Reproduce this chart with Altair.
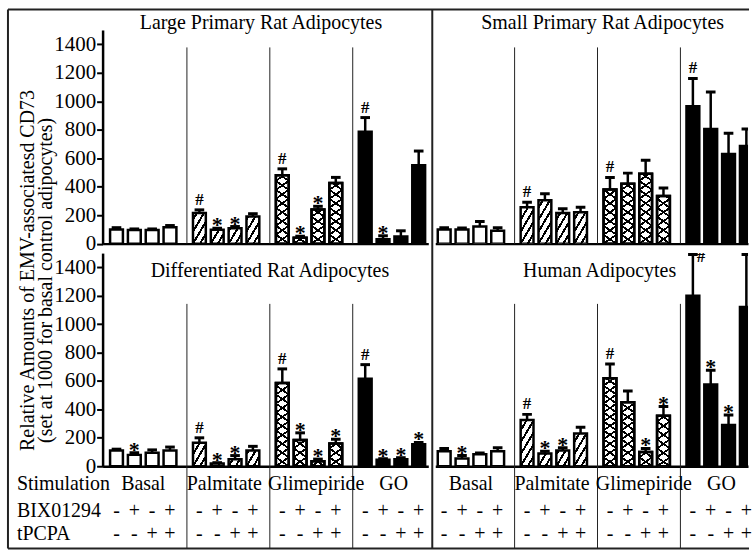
import math
import altair as alt

FONT = "Liberation Serif"

panel_titles = ["Large Primary Rat Adipocytes", "Small Primary Rat Adipocytes",
                "Differentiated Rat Adipocytes", "Human Adipocytes"]
groups = ["Basal", "Palmitate", "Glimepiride", "GO"]
bix01294 = ["-", "+", "-", "+"]
tpcpa = ["-", "-", "+", "+"]
row_labels = ["Stimulation", "BIX01294", "tPCPA"]
y_ticks = [0, 200, 400, 600, 800, 1000, 1200, 1400]
y_title = ["Relative Amounts of EMV-associatesd CD73",
           "(set at 1000 for basal control adipocytes)"]

large_mean = [100, 95, 95, 115, 215, 98, 108, 190, 480, 42, 240, 425, 785, 30, 50, 550]
large_err = [12, 8, 8, 12, 22, 10, 12, 20, 45, 10, 22, 40, 100, 25, 40, 100]
large_sig = ["", "", "", "", "#", "*", "*", "", "#", "*", "*", "", "#", "*", "", ""]

small_mean = [100, 100, 120, 90, 255, 305, 215, 220, 380, 420, 490, 335, 965, 805, 630, 685]
small_err = [12, 10, 35, 22, 35, 45, 30, 35, 85, 75, 95, 55, 195, 260, 145, 120]
small_sig = ["", "", "", "", "#", "", "", "", "#", "", "", "", "#", "", "", ""]

diff_mean = [110, 80, 95, 110, 165, 20, 50, 110, 585, 185, 35, 160, 615, 45, 50, 155]
diff_err = [10, 15, 20, 25, 35, 5, 25, 30, 100, 50, 15, 30, 100, 8, 10, 12]
diff_sig = ["", "*", "", "", "#", "*", "*", "", "#", "*", "*", "*", "#", "*", "*", "*"]

human_mean = [105, 55, 85, 105, 325, 90, 110, 230, 620, 450, 100, 355, 1200, 575, 290, 1120]
human_err = [20, 20, 8, 25, 40, 15, 20, 45, 100, 80, 25, 65, 290, 100, 70, 370]
human_sig = ["", "*", "", "", "#", "*", "*", "", "#", "", "*", "*", "#r", "*", "*", "#r"]

# ---- layout / style ----
YMAX = 1500
GP = 4.65          # group pitch in bar units
HALF = 0.36        # half bar width in bar units
PXU = 17.9         # pixels per bar unit
W_L, W_R = 327, 314
H_T, H_B = 214.5, 214
XDOM_L = [-0.78, -0.78 + W_L / PXU]
XDOM_R = [-0.5, -0.5 + W_R / PXU]
LABEL_SHIFT = [0.0, -0.1, 0.4, 0.1]


def stripe_fill(w, h, k, pv, th, fg, bg):
    corners = [(0.0, 0.0), (1.0, 0.0), (0.0, 1.0), (1.0, 1.0)]
    fv = [k * u * w + v * h for u, v in corners]
    fmin, fmax = min(fv), max(fv)
    u0, v0 = corners[fv.index(fmin)]
    al, be = k * w, h
    delta = fmax - fmin
    lam = delta / (al * al + be * be)
    tf = th * math.sqrt(k * k + 1)
    stops = [{"offset": 0, "color": bg}]
    n_lo = math.floor((fmin - tf - h) / pv) - 1
    n_hi = math.ceil((fmax + tf - h) / pv) + 1
    for n in range(n_lo, n_hi + 1):
        c = h + n * pv
        s = min(max((c - tf / 2 - fmin) / delta, 0), 1)
        e = min(max((c + tf / 2 - fmin) / delta, 0), 1)
        if e <= s:
            continue
        s, e = round(s, 5), round(e, 5)
        stops += [{"offset": s, "color": bg}, {"offset": s, "color": fg},
                  {"offset": e, "color": fg}, {"offset": e, "color": bg}]
    stops.append({"offset": 1, "color": bg})
    return {"gradient": "linear", "x1": u0, "y1": v0,
            "x2": u0 + lam * al, "y2": v0 + lam * be, "stops": stops}


def bar_records(mean, err, sig, H):
    w = 2 * HALF * PXU
    recs = []
    for i, (m, e, s) in enumerate(zip(mean, err, sig)):
        g, b = divmod(i, 4)
        x = g * GP + b
        h = max(m * H / YMAX, 0.5)
        cross = False
        f2 = "transparent"
        if g == 0:
            f1 = "white"
        elif g == 1:
            f1 = stripe_fill(w, h, 1.7, 12, 2.0, "black", "white")
        elif g == 2:
            f1 = stripe_fill(w, h, 0.7, 9, 1.8, "black", "white")
            f2 = stripe_fill(w, h, -0.7, 9, 1.8, "black", "rgba(255,255,255,0)")
            cross = True
        else:
            f1 = "black"
        recs.append({"x": x, "bx1": x - HALF, "bx2": x + HALF, "xl": x - 0.27, "xr": x + 0.27,
                     "v": m, "zero": 0, "top": m + e, "sig": s, "f1": f1, "f2": f2,
                     "cross": cross, "b": bix01294[b], "p": tpcpa[b]})
    return recs


def panel(mean, err, sig, W, H, xdom, yaxis, right, title, title_xy, bottom):
    recs = bar_records(mean, err, sig, H)
    data = alt.Data(values=recs)
    xs = alt.Scale(domain=xdom, nice=False, zero=False)
    ys = alt.Scale(domain=[0, YMAX], nice=False, zero=True)
    xax = alt.Axis(title=None, labels=False, ticks=False, grid=False,
                   domainWidth=2.5, domainColor="black")
    if yaxis:
        yax = alt.Axis(title=None, values=y_ticks, format="d", grid=False, tickSize=6,
                       tickWidth=2, domainWidth=2.5, labelPadding=1, labelFont=FONT,
                       labelFontSize=21, labelColor="black", tickColor="black",
                       domainColor="black", labelOverlap=False, labelFlush=False)
    else:
        yax = None
    clip = right

    def X(f):
        return alt.X(f, scale=xs, axis=xax)

    def Y(f):
        return alt.Y(f, scale=ys, axis=yax)

    layers = []
    layers.append(alt.Chart(data).mark_rect(stroke="black", strokeWidth=2.5, clip=clip).encode(
        x=X("bx1:Q"), x2="bx2:Q", y=Y("v:Q"), y2="zero:Q",
        fill=alt.Fill("f1:N", scale=None)))
    layers.append(alt.Chart(data).transform_filter("datum.cross").mark_rect(
        stroke="black", strokeWidth=2.5, clip=clip).encode(
        x=X("bx1:Q"), x2="bx2:Q", y=Y("v:Q"), y2="zero:Q",
        fill=alt.Fill("f2:N", scale=None)))
    layers.append(alt.Chart(data).mark_rule(color="black", strokeWidth=2.5, clip=clip).encode(
        x=X("x:Q"), y=Y("v:Q"), y2="top:Q"))
    layers.append(alt.Chart(data).mark_rule(color="black", strokeWidth=3, clip=clip).encode(
        x=X("xl:Q"), x2="xr:Q", y=Y("top:Q")))
    layers.append(alt.Chart(data).transform_filter("datum.sig == '#'").mark_text(
        font=FONT, fontSize=17, fontWeight="bold", baseline="bottom", dy=-1, color="black",
        clip=clip).encode(x=X("x:Q"), y=Y("top:Q"), text="sig:N"))
    layers.append(alt.Chart(data).transform_filter("datum.sig == '#r'").mark_text(
        text="#", font=FONT, fontSize=17, fontWeight="bold", align="left", baseline="middle",
        dx=4, dy=3, color="black", clip=clip).encode(x=X("x:Q"), y=Y("top:Q")))
    layers.append(alt.Chart(data).transform_filter("datum.sig == '*'").mark_text(
        font=FONT, fontSize=22, fontWeight="bold", baseline="middle", dy=-3, color="black",
        clip=clip).encode(x=X("x:Q"), y=Y("top:Q"), text="sig:N"))

    # group dividers
    div = alt.Data(values=[{"d": g * GP - 0.7} for g in (1, 2, 3)])
    if bottom:
        layers.append(alt.Chart(div).mark_rule(color="#222", strokeWidth=1).encode(
            x=X("d:Q"), y=alt.value(51), y2=alt.value(H + 83)))
    else:
        layers.append(alt.Chart(div).mark_rule(color="#222", strokeWidth=1).encode(
            x=X("d:Q"), y=alt.value(17.5), y2=alt.value(H)))

    one = alt.Data(values=[{"u": 0}])
    layers.append(alt.Chart(one).mark_text(text=title, font=FONT, fontSize=20,
                                           baseline="middle", color="black").encode(
        x=alt.value(title_xy[0]), y=alt.value(title_xy[1])))

    if bottom:
        glab = alt.Data(values=[{"x": g * GP + 1.5 + LABEL_SHIFT[g], "t": t}
                                for g, t in enumerate(groups)])
        layers.append(alt.Chart(glab).mark_text(font=FONT, fontSize=20, baseline="middle",
                                                color="black").encode(
            x=X("x:Q"), y=alt.value(232), text="t:N"))
        layers.append(alt.Chart(data).mark_text(font=FONT, fontSize=20, baseline="middle",
                                                color="black").encode(
            x=X("x:Q"), y=alt.value(259), text="b:N"))
        layers.append(alt.Chart(data).mark_text(font=FONT, fontSize=20, baseline="middle",
                                                color="black").encode(
            x=X("x:Q"), y=alt.value(282), text="p:N"))
        if not right:
            for lab, yy in zip(row_labels, [232, 259, 282]):
                layers.append(alt.Chart(one).mark_text(
                    text=lab, font=FONT, fontSize=20, align="left", baseline="middle",
                    color="black").encode(x=alt.value(-86), y=alt.value(yy)))
    if yaxis and not bottom:
        # frame lines and central divider
        frame = [(-95, -20.5, 649, -20.5), (-95, -20.5, -95, 520.5),
                 (-95, 520.5, 649, 520.5), (331, -20.5, 331, 520.5)]
        for (a, b, c, d) in frame:
            layers.append(alt.Chart(one).mark_rule(color="#222", strokeWidth=2).encode(
                x=alt.value(a), y=alt.value(b), x2=alt.value(c), y2=alt.value(d)))
        for txt, xx, yy in zip(y_title, [-75, -57], [241.5, 251.5]):
            layers.append(alt.Chart(one).mark_text(
                text=txt, font=FONT, fontSize=20, angle=270, align="center",
                baseline="middle", color="black").encode(x=alt.value(xx), y=alt.value(yy)))

    return alt.layer(*layers).properties(width=W, height=H)


tl = panel(large_mean, large_err, large_sig, W_L, H_T, XDOM_L, True, False,
           panel_titles[0], (159, -6.5), False)
tr = panel(small_mean, small_err, small_sig, W_R, H_T, XDOM_R, False, True,
           panel_titles[1], (168, -6.5), False)
bl = panel(diff_mean, diff_err, diff_sig, W_L, H_B, XDOM_L, True, False,
           panel_titles[2], (168, 18), True)
br = panel(human_mean, human_err, human_sig, W_R, H_B, XDOM_R, False, True,
           panel_titles[3], (165, 18), True)

chart = alt.concat(tl, tr, bl, br, columns=2, spacing={"row": 9, "column": 7},
                   bounds="flush", align="each").properties(
    padding={"left": 7, "top": 7, "right": 0, "bottom": 0},
    background="white",
).configure_view(stroke=None).configure_axis(
    labelFont=FONT, labelFontSize=21, labelColor="black", format="d"
)

chart.save("out.html", embed_options={"renderer": "svg", "actions": False})
